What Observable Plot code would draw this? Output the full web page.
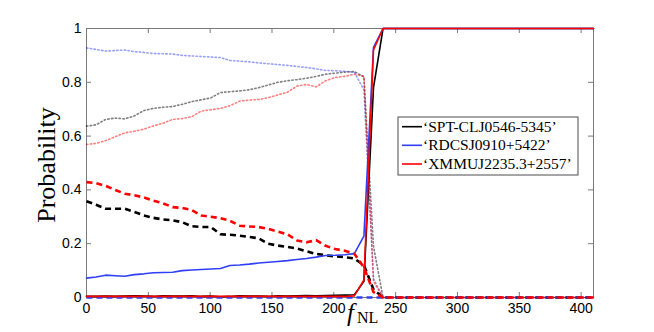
<!DOCTYPE html>
<html><head><meta charset="utf-8">
<script src="https://cdn.jsdelivr.net/npm/d3@7"></script>
<script src="https://cdn.jsdelivr.net/npm/@observablehq/plot@0.6"></script>
<style>body{margin:0;background:#fff}</style>
</head><body><div id="chart"></div>
<script>
const fNL = [0,7.74,15.47,23.21,30.94,38.68,46.42,54.15,61.89,69.62,77.36,85.09,92.83,100.57,108.30,116.04,123.77,131.51,139.25,146.98,154.72,162.45,170.19,177.92,185.66,193.40,201.13,208.87,216.60,224.34,232.08,239.81,247.55,255.28,263.02,270.75,278.49,286.23,293.96,301.70,309.43,317.17,324.91,332.64,340.38,348.11,355.85,363.58,371.32,379.06,386.79,394.53,402.26,410];

const blackSolid = [0.004,0.004,0.005,0.004,0.005,0.006,0.005,0.004,0.006,0.005,0.005,0.006,0.004,0.005,0.003,0.004,0.006,0.005,0.005,0.004,0.006,0.005,0.006,0.007,0.006,0.007,0.008,0.009,0.010,0.060,0.780,1,1,1,1,1,1,1,1,1,1,1,1,1,1,1,1,1,1,1,1,1,1,1];
const blackDashed = [0.358,0.345,0.330,0.330,0.330,0.318,0.305,0.296,0.290,0.287,0.280,0.265,0.262,0.262,0.235,0.233,0.230,0.225,0.220,0.200,0.193,0.188,0.182,0.172,0.162,0.157,0.153,0.150,0.145,0.120,0.030,0,0,0,0,0,0,0,0,0,0,0,0,0,0,0,0,0,0,0,0,0,0,0];
const blackDotted = [0.637,0.642,0.662,0.667,0.664,0.675,0.695,0.703,0.707,0.710,0.718,0.728,0.735,0.742,0.762,0.765,0.768,0.772,0.780,0.790,0.800,0.806,0.810,0.815,0.822,0.830,0.834,0.838,0.840,0.820,0.190,0,0,0,0,0,0,0,0,0,0,0,0,0,0,0,0,0,0,0,0,0,0,0];

const blueSolid = [0.072,0.076,0.083,0.081,0.079,0.085,0.088,0.092,0.093,0.094,0.100,0.102,0.104,0.106,0.108,0.119,0.121,0.124,0.128,0.131,0.134,0.137,0.141,0.145,0.150,0.156,0.157,0.159,0.163,0.228,0.930,1,1,1,1,1,1,1,1,1,1,1,1,1,1,1,1,1,1,1,1,1,1,1];
const blueDashed = [0,0,0,0,0,0,0,0,0,0,0,0,0,0,0,0,0,0,0,0,0,0,0,0,0,0,0,0,0,0,0,0,0,0,0,0,0,0,0,0,0,0,0,0,0,0,0,0,0,0,0,0,0,0];
const blueDotted = [0.928,0.922,0.916,0.918,0.920,0.914,0.911,0.907,0.906,0.905,0.900,0.898,0.896,0.894,0.892,0.881,0.879,0.876,0.872,0.869,0.866,0.863,0.859,0.855,0.850,0.844,0.843,0.841,0.837,0.772,0.070,0,0,0,0,0,0,0,0,0,0,0,0,0,0,0,0,0,0,0,0,0,0,0];

const redSolid = [0.004,0.004,0.004,0.004,0.004,0.004,0.004,0.004,0.004,0.004,0.004,0.004,0.004,0.004,0.004,0.004,0.004,0.004,0.004,0.004,0.004,0.004,0.004,0.004,0.004,0.004,0.004,0.004,0.006,0.065,0.920,1,1,1,1,1,1,1,1,1,1,1,1,1,1,1,1,1,1,1,1,1,1,1];
const redDashed = [0.429,0.425,0.415,0.400,0.386,0.380,0.372,0.360,0.350,0.336,0.333,0.325,0.305,0.300,0.295,0.285,0.267,0.264,0.262,0.255,0.245,0.235,0.212,0.205,0.213,0.192,0.180,0.174,0.163,0.112,0.020,0,0,0,0,0,0,0,0,0,0,0,0,0,0,0,0,0,0,0,0,0,0,0];
const redDotted = [0.569,0.573,0.583,0.598,0.612,0.618,0.626,0.638,0.648,0.662,0.665,0.672,0.693,0.698,0.703,0.713,0.730,0.734,0.736,0.743,0.753,0.763,0.786,0.792,0.783,0.806,0.818,0.822,0.830,0.823,0.060,0,0,0,0,0,0,0,0,0,0,0,0,0,0,0,0,0,0,0,0,0,0,0];

const clusters = ["‘SPT-CLJ0546-5345’", "‘RDCSJ0910+5422’", "‘XMMUJ2235.3+2557’"];
const colors = ["#000000", "#2f3ff5", "#ff0000"];
const xTicks = [0, 50, 100, 150, 200, 250, 300, 350, 400];
const yTicks = [0, 0.2, 0.4, 0.6, 0.8, 1];

const series = [
  [blackSolid, blackDashed, blackDotted],
  [blueSolid, blueDashed, blueDotted],
  [redSolid, redDashed, redDotted]
];

const W = 654, H = 332, mL = 86, mR = 61, mT = 28, mB = 35;
const plotW = W - mL - mR, plotH = H - mT - mB;
const axisGray = "#7a7a7a";

const marks = [];
series.forEach((s, ci) => {
  const col = colors[ci];
  const mk = arr => fNL.map((x, i) => ({x, y: arr[i]}));
  marks.push(Plot.lineY(mk(s[0]), {x: "x", y: "y", stroke: col, strokeWidth: 1.6}));
  marks.push(Plot.lineY(mk(s[1]), {x: "x", y: "y", stroke: col, strokeWidth: 2.6, strokeDasharray: "6,4", strokeLinecap: "butt"}));
  marks.push(Plot.lineY(mk(s[2]), {x: "x", y: "y", stroke: col, strokeWidth: 1.6, strokeDasharray: "1.4,2.4", strokeOpacity: 0.5}));
});

const chart = Plot.plot({
  width: W, height: H,
  marginLeft: mL, marginRight: mR, marginTop: mT, marginBottom: mB,
  style: {fontFamily: "'Liberation Sans', Arial, sans-serif", fontSize: "14px", color: "#000", background: "#fff"},
  x: {domain: [0, 410]},
  y: {domain: [0, 1]},
  marks: [
    Plot.frame({stroke: axisGray, strokeWidth: 1}),
    Plot.tickX(xTicks, {x: d => d, stroke: axisGray, insetTop: plotH - 5}),
    Plot.tickX(xTicks, {x: d => d, stroke: axisGray, insetBottom: plotH - 5}),
    Plot.tickY(yTicks, {y: d => d, stroke: axisGray, insetRight: plotW - 5}),
    Plot.tickY(yTicks, {y: d => d, stroke: axisGray, insetLeft: plotW - 5}),
    Plot.axisX(xTicks, {tickSize: 0, tickPadding: 6, label: null, fill: "#000", fontSize: 14}),
    Plot.axisY(yTicks, {tickSize: 0, tickPadding: 5, label: null, fill: "#000", fontSize: 14, tickFormat: d => String(d)}),
    ...marks
  ]
});

document.getElementById("chart").appendChild(chart);
const svg = d3.select(chart);
const serif = "'Liberation Serif', 'Times New Roman', serif";

svg.append("text")
  .attr("transform", "translate(55,165) rotate(-90)")
  .attr("text-anchor", "middle")
  .style("font-family", serif).style("font-size", "26px").attr("fill", "#000")
  .text("Probability");

const xl = svg.append("text").attr("x", 347).attr("y", 321).attr("text-anchor", "start")
  .style("font-family", serif).attr("fill", "#000");
xl.append("tspan").style("font-style", "italic").style("font-size", "25px").text("f");
xl.append("tspan").attr("dx", 3).attr("dy", 2).style("font-size", "16px").text("NL");

const lg = svg.append("g");
lg.append("rect").attr("x", 398).attr("y", 117).attr("width", 180).attr("height", 58)
  .attr("fill", "#fff").attr("stroke", "#4d4d4d").attr("stroke-width", 1);
const rowsY = [126.7, 145.3, 164];
clusters.forEach((name, i) => {
  lg.append("line").attr("x1", 402).attr("x2", 422).attr("y1", rowsY[i]).attr("y2", rowsY[i])
    .attr("stroke", colors[i]).attr("stroke-width", 1.6);
  lg.append("text").attr("x", 423).attr("y", rowsY[i] + 5).attr("text-anchor", "start")
    .style("font-family", serif).style("font-size", "15.5px").attr("fill", "#000").text(name);
});
</script>
</body></html>
